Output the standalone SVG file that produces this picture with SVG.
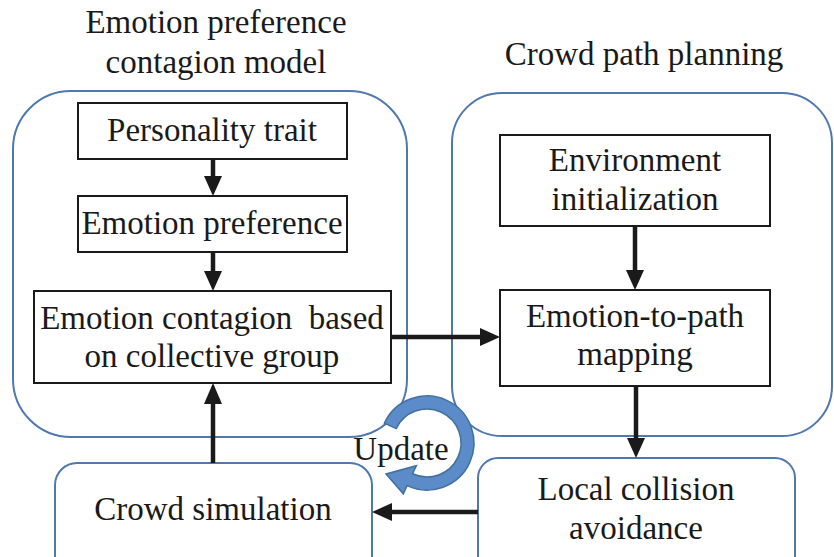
<svg xmlns="http://www.w3.org/2000/svg" width="834" height="557" viewBox="0 0 834 557">
<style>
.grp{fill:#fff;stroke:#4f79ae;stroke-width:2}
.box{fill:#fff;stroke:#1a1a1a;stroke-width:2}
.ln{stroke:#1a1a1a;stroke-width:4.5;fill:none}
.hd{fill:#1a1a1a}
</style>
<rect width="834" height="557" fill="#fff"/>
<g font-family="Liberation Serif" font-size="33" fill="#1a1a1a" text-anchor="middle">
<g id="title-left">
<text x="216" y="33">Emotion preference</text>
<text x="216" y="73">contagion model</text>
</g>
<g id="title-right"><text x="644" y="65">Crowd path planning</text></g>
<g id="group-left"><rect class="grp" x="13" y="91" width="394" height="346" rx="58"/></g>
<g id="group-right"><rect class="grp" x="452" y="93" width="380" height="343" rx="50"/></g>
<g id="personality"><rect class="box" x="78" y="103" width="269" height="56"/><text x="212" y="141">Personality trait</text></g>
<g id="preference"><rect class="box" x="78" y="196" width="269" height="56"/><text x="212" y="234">Emotion preference</text></g>
<g id="contagion"><rect class="box" x="34" y="291" width="357" height="92"/><text x="212" y="329" xml:space="preserve">Emotion contagion  based</text><text x="212" y="367">on collective group</text></g>
<g id="environment"><rect class="box" x="500" y="135" width="270" height="91"/><text x="635" y="171">Environment</text><text x="635" y="210">initialization</text></g>
<g id="mapping"><rect class="box" x="500" y="290" width="270" height="96"/><text x="635" y="327">Emotion-to-path</text><text x="635" y="365">mapping</text></g>
<g id="collision"><rect class="grp" x="478" y="458" width="317" height="130" rx="20"/><text x="636" y="500">Local collision</text><text x="636" y="539">avoidance</text></g>
<g id="simulation"><rect class="grp" x="55" y="463" width="317" height="130" rx="22"/><text x="213" y="520">Crowd simulation</text></g>
<g id="connectors">
<line class="ln" x1="213" y1="159" x2="213" y2="178"/><polygon class="hd" points="204,176 222,176 213,196"/>
<line class="ln" x1="213" y1="252" x2="213" y2="273"/><polygon class="hd" points="204,271 222,271 213,291"/>
<line class="ln" x1="213" y1="463" x2="213" y2="402"/><polygon class="hd" points="204,404 222,404 213,383"/>
<line class="ln" x1="391" y1="337" x2="482" y2="337"/><polygon class="hd" points="480,328 480,346 500,337"/>
<line class="ln" x1="635" y1="226" x2="635" y2="272"/><polygon class="hd" points="626,270 644,270 635,290"/>
<line class="ln" x1="636" y1="386" x2="636" y2="440"/><polygon class="hd" points="627,438 645,438 636,458"/>
<line class="ln" x1="478" y1="512" x2="390" y2="512"/><polygon class="hd" points="392,503 392,521 372,512"/>
</g>
<g id="update">
<path d="M384.4,423.1 A47,47 0 1 1 407.1,485.6 L403.3,493.8 L386,474 L416.4,465.7 L412.6,473.8 A34,34 0 1 0 396.2,428.6 Z" fill="#5b8bc8" stroke="#41719c" stroke-width="1.5"/>
<text x="401" y="460">Update</text>
</g>
</g>
</svg>
